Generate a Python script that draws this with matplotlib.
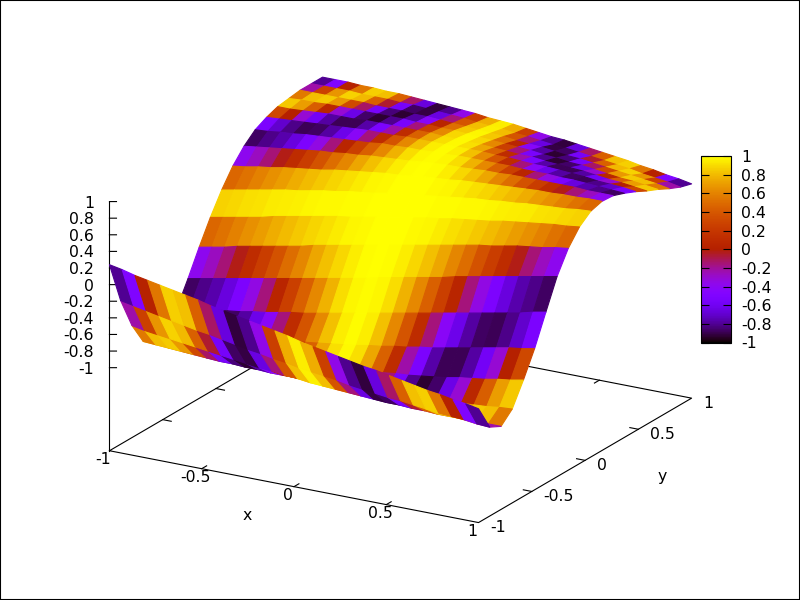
import numpy as np
import matplotlib
matplotlib.use('Agg')
import matplotlib.pyplot as plt
from matplotlib.cm import ScalarMappable
from matplotlib.colors import Normalize
from matplotlib.patches import Rectangle
from mpl_toolkits.mplot3d import proj3d

# sample positions of the mesh
x_samples = [-1.0, -0.931, -0.862, -0.793, -0.724, -0.655, -0.586, -0.517, -0.448, -0.379,
             -0.31, -0.241, -0.172, -0.103, -0.034, 0.034, 0.103, 0.172, 0.241, 0.31,
             0.379, 0.448, 0.517, 0.586, 0.655, 0.724, 0.793, 0.862, 0.931, 1.0]
y_samples = [-1.0, -0.895, -0.789, -0.684, -0.579, -0.474, -0.368, -0.263, -0.158, -0.053,
             0.053, 0.158, 0.263, 0.368, 0.474, 0.579, 0.684, 0.789, 0.895, 1.0]

# height, one row per y sample
z_rows = [
    [.24,.21,.17,.14,.11,.08,.05,.02,-.02,-.05,-.08,-.11,-.14,-.17,-.20,-.24,-.27,-.30,-.33,-.36,-.39,-.41,-.44,-.47,-.50,-.53,-.55,-.58,-.60,-.63],
    [-.27,-.30,-.33,-.36,-.39,-.42,-.45,-.47,-.50,-.53,-.56,-.58,-.61,-.63,-.66,-.68,-.70,-.72,-.75,-.77,-.79,-.81,-.82,-.84,-.86,-.88,-.89,-.90,-.92,-.93],
    [-.65,-.68,-.70,-.72,-.74,-.76,-.78,-.80,-.82,-.84,-.86,-.87,-.89,-.90,-.92,-.93,-.94,-.95,-.96,-.97,-.98,-.98,-.99,-.99,-1.0,-1.0,-1.0,-1.0,-1.0,-1.0],
    [-.92,-.93,-.94,-.95,-.96,-.97,-.98,-.98,-.99,-.99,-1.0,-1.0,-1.0,-1.0,-1.0,-1.0,-.99,-.99,-.98,-.98,-.97,-.96,-.95,-.94,-.93,-.92,-.91,-.90,-.88,-.87],
    [-1.0,-1.0,-1.0,-1.0,-.99,-.99,-.98,-.98,-.97,-.96,-.95,-.94,-.93,-.92,-.90,-.89,-.87,-.86,-.84,-.82,-.81,-.79,-.77,-.75,-.72,-.70,-.68,-.65,-.63,-.60],
    [-.94,-.93,-.92,-.90,-.89,-.87,-.86,-.84,-.82,-.80,-.79,-.76,-.74,-.72,-.70,-.68,-.65,-.63,-.60,-.58,-.55,-.53,-.50,-.47,-.44,-.41,-.38,-.35,-.33,-.30],
    [-.76,-.74,-.72,-.69,-.67,-.65,-.62,-.60,-.57,-.54,-.52,-.49,-.46,-.43,-.40,-.37,-.34,-.31,-.28,-.25,-.22,-.19,-.16,-.13,-.10,-.07,-.04,-.01,.03,.06],
    [-.48,-.45,-.42,-.39,-.36,-.33,-.30,-.27,-.24,-.21,-.18,-.15,-.12,-.09,-.06,-.02,.01,.04,.07,.10,.13,.17,.20,.23,.26,.29,.32,.35,.38,.41],
    [-.18,-.15,-.12,-.08,-.05,-.02,.01,.04,.07,.11,.14,.17,.20,.23,.26,.29,.32,.35,.38,.41,.44,.47,.50,.52,.55,.58,.60,.62,.65,.67],
    [.10,.13,.16,.19,.22,.26,.29,.32,.35,.38,.41,.43,.46,.49,.52,.55,.57,.60,.62,.65,.67,.69,.71,.74,.76,.78,.80,.82,.83,.85],
    [.35,.38,.41,.44,.47,.50,.52,.55,.58,.60,.63,.65,.67,.70,.72,.74,.76,.78,.80,.82,.84,.85,.87,.88,.90,.91,.92,.93,.95,.96],
    [.56,.58,.61,.63,.66,.68,.70,.72,.75,.77,.79,.81,.83,.84,.86,.88,.89,.90,.92,.93,.94,.95,.96,.97,.98,.98,.99,.99,1.0,1.0],
    [.72,.74,.76,.78,.80,.82,.84,.85,.87,.88,.90,.91,.92,.93,.95,.96,.97,.97,.98,.99,.99,1.0,1.0,1.0,1.0,1.0,1.0,.99,.99,.99],
    [.84,.85,.87,.88,.90,.91,.92,.93,.94,.95,.97,.97,.98,.98,.99,.99,1.0,1.0,1.0,1.0,1.0,.99,.99,.99,.98,.98,.97,.96,.95,.94],
    [.91,.92,.93,.94,.95,.96,.97,.98,.99,.99,.99,1.0,1.0,1.0,1.0,1.0,1.0,1.0,.99,.99,.98,.97,.97,.96,.95,.94,.92,.91,.90,.88],
    [.96,.96,.97,.98,.99,.99,.99,1.0,1.0,1.0,1.0,1.0,1.0,.99,.99,.98,.98,.97,.96,.95,.95,.93,.92,.91,.90,.88,.86,.85,.83,.81],
    [.98,.99,.99,1.0,1.0,1.0,1.0,1.0,1.0,1.0,.99,.99,.98,.98,.97,.96,.95,.94,.93,.92,.90,.89,.87,.86,.84,.82,.80,.79,.77,.75],
    [1.0,1.0,1.0,1.0,1.0,1.0,.99,.99,.99,.98,.98,.97,.96,.95,.94,.93,.92,.90,.89,.88,.86,.84,.83,.81,.79,.77,.75,.73,.71,.68],
    [1.0,1.0,1.0,1.0,.99,.99,.99,.98,.98,.97,.96,.95,.94,.92,.91,.90,.88,.87,.85,.83,.82,.80,.78,.76,.74,.72,.69,.67,.65,.62],
    [1.0,1.0,1.0,.99,.99,.98,.98,.97,.96,.95,.94,.93,.92,.90,.89,.88,.86,.84,.82,.81,.79,.77,.75,.73,.71,.68,.66,.63,.61,.58],
]

# cell colour values for one quarter of the mesh (the picture mirrors in x and y)
# rows go out from the yellow middle row, columns out from the yellow middle column
color_quarter = [
    [1,1,1,.99,.99,.98,.98,.97,.96,.95,.94,.92,.91,.89,.87],
    [1,1,.98,.97,.94,.91,.88,.84,.80,.75,.70,.65,.59,.53,.47],
    [1,.99,.95,.89,.82,.73,.61,.50,.37,.24,.11,-.03,-.15,-.27,-.39],
    [.99,.97,.90,.77,.62,.44,.25,.05,-.16,-.35,-.52,-.66,-.76,-.82,-.87],
    [.99,.95,.82,.62,.38,.11,-.16,-.42,-.63,-.78,-.87,-.89,-.82,-.70,-.53],
    [.98,.91,.73,.45,.11,-.23,-.53,-.77,-.89,-.89,-.78,-.58,-.31,0,.31],
    [.98,.89,.62,.25,-.16,-.54,-.81,-.93,-.86,-.64,-.31,.07,.43,.70,.84],
    [.97,.84,.51,.05,-.43,-.78,-.93,-.84,-.55,-.13,.32,.68,.85,.81,.56],
    [.96,.81,.38,-.16,-.65,-.91,-.87,-.56,-.06,.44,.79,.87,.67,.26,-.23],
    [.95,.75,.25,-.36,-.81,-.92,-.66,-.13,.44,.82,.86,.54,.02,-.50,-.80],
]

x_ticks = [-1, -0.5, 0, 0.5, 1]
x_tick_labels = ['-1', '-0.5', '0', '0.5', '1']
y_ticks = [-1, -0.5, 0, 0.5, 1]
y_tick_labels = ['-1', '-0.5', '0', '0.5', '1']
z_ticks = [-1, -0.8, -0.6, -0.4, -0.2, 0, 0.2, 0.4, 0.6, 0.8, 1]
z_tick_labels = ['-1', '-0.8', '-0.6', '-0.4', '-0.2', '0', '0.2', '0.4', '0.6', '0.8', '1']

FONT = 11.3
LW = 0.8

X, Y = np.meshgrid(x_samples, y_samples)
Z = np.array(z_rows)
q = np.array(color_quarter)
half = np.hstack([q[:, :0:-1], q])
C = np.vstack([half[:0:-1], half])

norm = Normalize(-1, 1)
cmap = plt.get_cmap('gnuplot')

fig = plt.figure(figsize=(8, 6), dpi=100)
side = 639
ax = fig.add_axes([72.4 / 800, -28.0 / 600, side / 800, side / 600],
                  projection='3d', computed_zorder=False)
ax.set_proj_type('ortho')
ax.view_init(elev=19.7, azim=-60)
ax.set_box_aspect((1, 1, 0.621))
ax.set_xlim(-1, 1, view_margin=0)
ax.set_ylim(-1, 1, view_margin=0)
ax.set_zlim(-2, 1, view_margin=0)
ax.set_axis_off()
ax.patch.set_alpha(0)


def line3d(xs, ys, zs, zorder=1):
    ax.plot(xs, ys, zs, color='black', lw=LW, zorder=zorder, clip_on=False)


def label3d(x, y, z, text, dx, dy, ha='center', va='center'):
    px, py, _ = proj3d.proj_transform(x, y, z, ax.get_proj())
    ax.annotate(text, (px, py), xytext=(dx, dy), textcoords='offset pixels',
                ha=ha, va=va, fontsize=FONT, annotation_clip=False)


# base square and z axis
line3d([-1, 1, 1, -1, -1], [-1, -1, 1, 1, -1], [-2, -2, -2, -2, -2])
line3d([-1, -1], [-1, -1], [-2, 1])

tick = 0.046
for xt, lab in zip(x_ticks, x_tick_labels):
    if abs(xt) < 1:
        line3d([xt, xt], [-1, -1 + tick], [-2, -2])
        line3d([xt, xt], [1, 1 - tick], [-2, -2])
    label3d(xt, -1, -2, lab, -6, -8.5)
for yt, lab in zip(y_ticks, y_tick_labels):
    if abs(yt) < 1:
        line3d([1, 1 - tick], [yt, yt], [-2, -2])
        line3d([-1, -1 + tick], [yt, yt], [-2, -2])
    label3d(1, yt, -2, lab, 11.5, -5, ha='left')
for zt, lab in zip(z_ticks, z_tick_labels):
    line3d([-1, -1 + 0.0285], [-1, -1 + 0.0166], [zt, zt])
    label3d(-1, -1, zt, lab, -15.5, 0, ha='right', va='center_baseline')

ax.plot_surface(X, Y, Z, facecolors=cmap(norm(C)), rstride=1, cstride=1, shade=False,
                linewidth=0.8, antialiased=True, zorder=3)

fig.text(247.7 / 800, 1 - 515 / 600, 'x', ha='center', va='center', fontsize=FONT)
fig.text(662.7 / 800, 1 - 477 / 600, 'y', ha='center', va='center', fontsize=FONT)

# colour box
cax = fig.add_axes([700.5 / 800, 1 - 342.5 / 600, 30.5 / 800, 186.5 / 600])
cbar = fig.colorbar(ScalarMappable(norm=norm, cmap=cmap), cax=cax, ticks=z_ticks)
cbar.set_ticklabels(z_tick_labels)
cbar.outline.set_linewidth(LW)
cax.tick_params(axis='y', which='major', direction='in', length=5.5, width=LW, left=True,
                right=True, labelright=True, labelleft=False, labelsize=FONT, pad=7.5)
for t in cax.get_yticklabels():
    t.set_va('center_baseline')

fig.add_artist(Rectangle((0, 0), 1, 1, transform=fig.transFigure, fill=False,
                         edgecolor='black', lw=1.5))

fig.savefig('out.png', dpi=100)
